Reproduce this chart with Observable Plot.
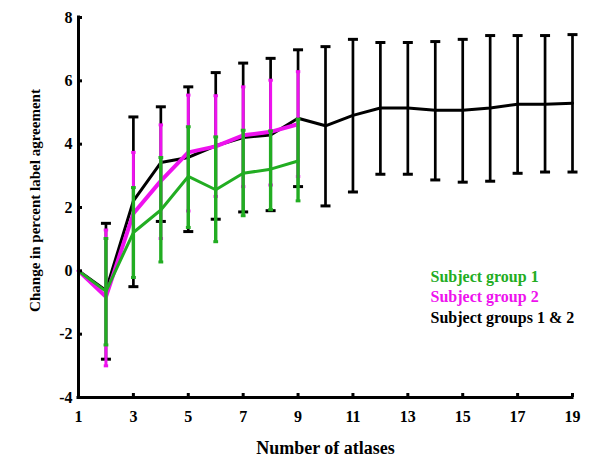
<!DOCTYPE html>
<html>
<head>
<meta charset="utf-8">
<script src="https://cdn.jsdelivr.net/npm/d3@7"></script>
<script src="https://cdn.jsdelivr.net/npm/@observablehq/plot@0.6"></script>
<style>
  html, body { margin: 0; padding: 0; background: #fff; }
</style>
</head>
<body>
<div id="chart"></div>
<script>
// ---- data ----
const atlases = [1, 2, 3, 4, 5, 6, 7, 8, 9, 10, 11, 12, 13, 14, 15, 16, 17, 18, 19];

// Subject group 1 (green), atlases 1..9
const g1Mean = [0, -0.65, 1.21, 1.92, 2.98, 2.56, 3.08, 3.21, 3.47];
const g1Hi   = [null, 1.02, 2.63, 3.58, 4.55, 4.23, 4.44, 4.42, 4.79];
const g1Lo   = [null, -2.34, -0.21, 0.28, 1.37, 0.92, 1.74, 1.93, 2.21];

// Subject group 2 (magenta), atlases 1..9
const g2Mean = [0, -0.82, 1.81, 2.84, 3.74, 3.93, 4.28, 4.39, 4.63];
const g2Hi   = [null, 1.29, 3.74, 4.61, 5.55, 5.53, 5.81, 6.02, 6.29];
const g2Lo   = [null, -3.0, -0.21, 1.02, 1.89, 2.35, 2.66, 2.71, 2.98];

// Subject groups 1 & 2 (black), atlases 1..19
const g12Mean = [0, -0.62, 2.21, 3.42, 3.58, 3.95, 4.21, 4.29, 4.82, 4.58, 4.91, 5.14, 5.14, 5.07, 5.07, 5.14, 5.26, 5.26, 5.29];
const g12Hi   = [null, 1.5, 4.86, 5.18, 5.81, 6.26, 6.56, 6.71, 6.98, 7.08, 7.31, 7.21, 7.21, 7.24, 7.31, 7.43, 7.43, 7.43, 7.46];
const g12Lo   = [null, -2.79, -0.5, 1.56, 1.24, 1.63, 1.86, 1.9, 2.66, 2.05, 2.49, 3.05, 3.05, 2.87, 2.80, 2.83, 3.08, 3.12, 3.12];

const xTicks = [1, 3, 5, 7, 9, 11, 13, 15, 17, 19];
const yTicks = [-4, -2, 0, 2, 4, 6, 8];

const legendLabels = ["Subject group 1", "Subject group 2", "Subject groups 1 & 2"];
const seriesColors = ["#22ad22", "#ee12ee", "#000000"];
const xLabel = "Number of atlases";
const yLabel = "Change in percent label agreement";

// ---- build tables ----
function series(mean, hi, lo) {
  return mean.map((m, i) => ({x: atlases[i], mean: m, hi: hi[i], lo: lo[i]}));
}
const s1 = series(g1Mean, g1Hi, g1Lo);
const s2 = series(g2Mean, g2Hi, g2Lo);
const s12 = series(g12Mean, g12Hi, g12Lo);
const bars = (s) => s.filter(d => d.hi != null);

// horizontal cap symbol
const hbar = {
  draw(ctx, size) {
    const r = Math.sqrt(size / Math.PI);
    ctx.moveTo(-r, 0);
    ctx.lineTo(r, 0);
  }
};

const W = 600, H = 464;
const mL = 78, mR = 28, mT = 17, mB = 67;
const plotW = W - mL - mR, plotH = H - mT - mB;
const font = "'Liberation Serif', 'Times New Roman', serif";

function errMarks(s, color, barW, capR, capW) {
  const b = bars(s);
  return [
    Plot.ruleX(b, {x: "x", y1: "lo", y2: "hi", stroke: color, strokeWidth: barW}),
    Plot.dot(b, {x: "x", y: "hi", symbol: hbar, r: capR, stroke: color, strokeWidth: capW, fill: "none"}),
    Plot.dot(b, {x: "x", y: "lo", symbol: hbar, r: capR, stroke: color, strokeWidth: capW, fill: "none"})
  ];
}

const chart = Plot.plot({
  width: W,
  height: H,
  marginLeft: mL,
  marginRight: mR,
  marginTop: mT,
  marginBottom: mB,
  style: {fontFamily: font, fontWeight: "bold", fontSize: "16px", background: "#fff", color: "#000"},
  x: {domain: [1, 19]},
  y: {domain: [-4, 8]},
  marks: [
    // black series
    ...errMarks(s12, seriesColors[2], 2.7, 5, 3),
    Plot.line(s12, {x: "x", y: "mean", stroke: seriesColors[2], strokeWidth: 3}),
    // magenta series
    ...errMarks(s2, seriesColors[1], 3, 2.2, 3),
    Plot.line(s2, {x: "x", y: "mean", stroke: seriesColors[1], strokeWidth: 4}),
    // green series
    ...errMarks(s1, seriesColors[0], 3.4, 2.4, 3),
    Plot.line(s1, {x: "x", y: "mean", stroke: seriesColors[0], strokeWidth: 3}),

    // axes lines
    Plot.ruleY([-4], {stroke: "#000", strokeWidth: 3, strokeLinecap: "square"}),
    Plot.ruleX([1], {stroke: "#000", strokeWidth: 3, strokeLinecap: "square"}),
    // inward ticks
    Plot.tickX(xTicks, {x: d => d, insetTop: plotH - 4, stroke: "#000", strokeWidth: 3}),
    Plot.tickY(yTicks, {y: d => d, insetRight: plotW - 4, stroke: "#000", strokeWidth: 3}),
    // tick labels
    Plot.axisX(xTicks, {tickSize: 0, tickPadding: 13, fontSize: 16, fontWeight: "bold", fontFamily: font, label: null}),
    Plot.axisY(yTicks, {tickSize: 0, tickPadding: 6, fontSize: 16, fontWeight: "bold", fontFamily: font, label: null,
      tickFormat: d => d < 0 ? "-" + Math.abs(d) : String(d)}),
    // axis titles
    Plot.text([xLabel], {frameAnchor: "bottom", textAnchor: "middle", dy: 56, fontSize: 18, fontWeight: "bold", fontFamily: font, fill: "#000"}),
    Plot.text([yLabel], {frameAnchor: "left", textAnchor: "middle", rotate: -90, dx: -43, dy: -7, fontSize: 15, fontWeight: "bold", fontFamily: font, fill: "#000"}),
    // legend
    ...legendLabels.map((t, i) =>
      Plot.text([t], {frameAnchor: "top-left", dx: 352, dy: 253 + i * 20.5, textAnchor: "start",
        fontSize: 16, fontWeight: "bold", fontFamily: font, fill: seriesColors[i]}))
  ]
});

document.getElementById("chart").appendChild(chart);
</script>
</body>
</html>
